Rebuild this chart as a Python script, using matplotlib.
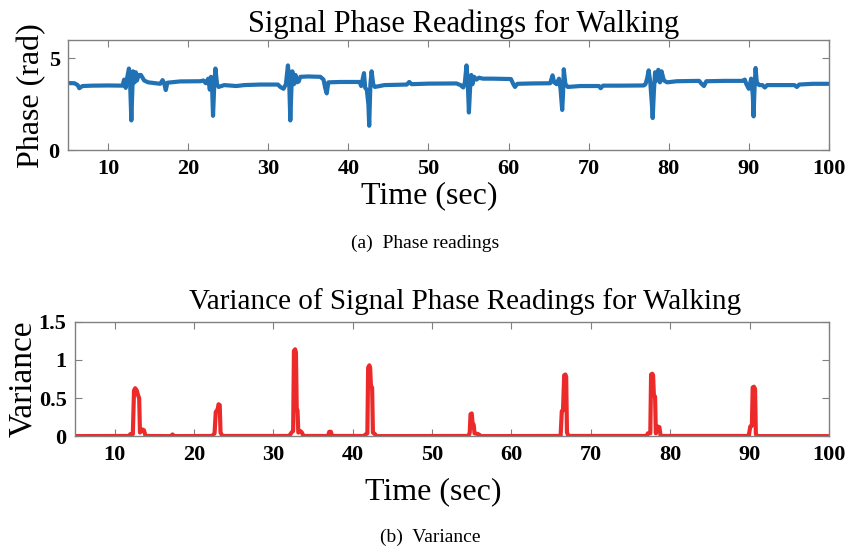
import matplotlib
matplotlib.use("Agg")
import matplotlib.pyplot as plt

plt.rcParams['font.family'] = ['Liberation Serif', 'DejaVu Serif']

# phase readings (time in sec, phase in rad)
phase_t = [5.0, 5.8, 6.2, 6.4, 6.8, 8, 10, 11.8,
           12.0, 12.2, 12.4, 12.6, 12.75, 12.9, 13.0, 13.1, 13.3, 13.45, 13.6, 13.8, 14.1, 14.5, 15.0,
           16.5, 16.8, 17.0, 17.2, 17.4, 19, 21.5,
           21.9, 22.2, 22.5, 22.7, 22.85, 23.0, 23.1, 23.25, 23.4, 23.6, 23.8, 24.5, 26, 27, 29, 31.2,
           31.5, 31.9, 32.2, 32.45, 32.6, 32.75, 32.9, 33.0, 33.2, 33.4, 33.6, 33.8, 34.0, 35, 36.5,
           36.9, 37.1, 37.3, 37.5, 39, 41.4,
           41.6, 41.8, 41.95, 42.1, 42.3, 42.5, 42.6, 42.75, 42.9, 43.1, 43.3, 44.5, 47.3, 47.6, 47.9,
           50, 53.5,
           54.0, 54.35, 54.55, 54.75, 54.9, 55.05, 55.2, 55.35, 55.5, 55.7, 56.0, 56.3, 56.8, 58, 60.3,
           60.6, 60.8, 61.1, 63, 65.2,
           65.5, 65.7, 66.0, 66.3, 66.5, 66.7, 66.8, 66.9, 67.1, 67.4, 69, 71.3, 71.5, 71.8, 74, 76.9,
           77.1, 77.3, 77.5, 77.7, 77.9, 78.0, 78.15, 78.3, 78.5, 78.7, 78.9, 79.1, 79.4, 79.8, 80.2,
           81, 83.8, 84.1, 84.4, 84.7, 87, 89.2,
           89.5, 89.7, 90.0, 90.3, 90.5, 90.6, 90.7, 90.85, 91.0, 91.3, 91.7, 92.0, 92.3, 95.7, 96.0,
           96.3, 98, 100]
phase_v = [3.66, 3.65, 3.55, 3.38, 3.50, 3.52, 3.53, 3.52,
           3.85, 3.4, 4.0, 4.45, 3.6, 1.63, 3.0, 4.3, 3.7, 4.25, 3.8, 4.1, 4.1, 3.8, 3.7,
           3.62, 3.82, 3.65, 3.28, 3.68, 3.75, 3.76,
           3.8, 3.65, 3.9, 3.3, 4.0, 3.2, 1.88, 3.5, 4.45, 3.6, 3.45, 3.55, 3.5, 3.55, 3.58, 3.58,
           3.45, 3.35, 3.6, 4.62, 3.9, 1.63, 3.5, 4.3, 3.6, 4.1, 3.7, 3.75, 4.0, 4.02, 4.0,
           3.85, 3.4, 3.1, 3.7, 3.72, 3.72,
           3.5, 3.9, 4.2, 3.4, 3.3, 2.5, 1.34, 3.6, 4.3, 3.6, 3.45, 3.55, 3.58, 3.72, 3.6,
           3.63, 3.64,
           3.55, 3.42, 3.7, 4.62, 3.8, 2.06, 3.4, 4.1, 3.6, 4.0, 3.85, 3.95, 3.9, 3.9, 3.88,
           3.6, 3.45, 3.62, 3.64, 3.65,
           4.08, 3.7, 3.6, 3.9, 3.3, 2.2, 3.0, 4.41, 3.6, 3.45, 3.5, 3.5, 3.38, 3.52, 3.52, 3.53,
           3.6, 3.9, 4.35, 3.7, 2.5, 1.76, 3.2, 4.25, 3.8, 4.38, 3.7, 4.3, 3.8, 3.7, 3.72,
           3.76, 3.78, 3.62, 3.5, 3.76, 3.78, 3.78,
           3.85, 3.6, 3.35, 3.9, 3.0, 1.85, 3.2, 4.48, 3.7, 3.55, 3.55, 3.42, 3.55, 3.55, 3.45,
           3.58, 3.62, 3.62]

# variance of the phase readings
var_t = [5, 11.8, 12.0, 12.3, 12.45, 12.6, 12.8, 12.95, 13.1, 13.2, 13.5, 13.7, 13.9,
         17.1, 17.3, 17.5,
         22.3, 22.6, 22.75, 22.9, 23.0, 23.1, 23.25, 23.35, 23.6,
         32.0, 32.3, 32.5, 32.6, 32.75, 32.85, 32.95, 33.05, 33.15, 33.4, 33.6, 33.8,
         36.9, 37.05, 37.25, 37.4,
         41.4, 41.7, 41.85, 41.95, 42.1, 42.2, 42.3, 42.45, 42.55, 42.8, 43.0,
         54.6, 54.75, 54.85, 55.0, 55.1, 55.25, 55.35, 55.8, 56.2,
         66.2, 66.35, 66.5, 66.65, 66.8, 66.9, 67.0, 67.2,
         77.0, 77.2, 77.5, 77.6, 77.75, 77.85, 77.95, 78.1, 78.2, 78.4, 78.65, 78.8,
         89.9, 90.1, 90.3, 90.4, 90.55, 90.7, 90.8, 91, 100]
var_v = [0.003, 0.005, 0.03, 0.03, 0.6, 0.63, 0.6, 0.54, 0.5, 0.05, 0.09, 0.08, 0.005,
         0.003, 0.025, 0.003,
         0.005, 0.04, 0.32, 0.34, 0.36, 0.42, 0.41, 0.05, 0.005,
         0.005, 0.05, 0.07, 1.12, 1.14, 1.1, 0.36, 0.34, 0.05, 0.07, 0.05, 0.005,
         0.005, 0.06, 0.06, 0.005,
         0.005, 0.03, 0.04, 0.9, 0.93, 0.9, 0.66, 0.64, 0.05, 0.03, 0.003,
         0.005, 0.05, 0.29, 0.30, 0.18, 0.15, 0.04, 0.03, 0.003,
         0.005, 0.33, 0.34, 0.8, 0.81, 0.78, 0.05, 0.005,
         0.005, 0.04, 0.04, 0.81, 0.82, 0.8, 0.54, 0.52, 0.04, 0.13, 0.12, 0.005,
         0.005, 0.13, 0.14, 0.64, 0.65, 0.62, 0.03, 0.003, 0.003]

xticks = [10, 20, 30, 40, 50, 60, 70, 80, 90, 100]

fig = plt.figure(figsize=(8.51, 5.52), dpi=100)
ax1 = fig.add_axes([0.080, 0.7275, 0.894, 0.200])
ax2 = fig.add_axes([0.088, 0.2095, 0.886, 0.2075])

def style(ax, xlabel_y):
    for s in ax.spines.values():
        s.set_color('#808080')
        s.set_linewidth(1.0)
    ax.tick_params(direction='in', top=True, right=True, length=5,
                   color='#808080', labelsize=16, pad=6)
    for lab in ax.get_xticklabels() + ax.get_yticklabels():
        lab.set_fontweight('bold')
    # the x label sits a little left of the axes centre in the original
    ax.set_xlabel('Time (sec)', fontsize=23)
    ax.xaxis.set_label_coords(0.475, xlabel_y)

ax1.plot(phase_t, phase_v, color='#2171b5', lw=3)
ax1.set_xlim(5, 100)
ax1.set_ylim(0, 6)
ax1.set_xticks(xticks)
ax1.set_yticks([0, 5])
ax1.set_title('Signal Phase Readings for Walking', fontsize=22, pad=6, x=0.52)
ax1.set_ylabel('Phase (rad)', fontsize=23, labelpad=2)
style(ax1, -0.28)

ax2.plot(var_t, var_v, color='#ec2a2a', lw=3)
ax2.set_xlim(5, 100)
ax2.set_ylim(0, 1.5)
ax2.set_xticks(xticks)
ax2.set_yticks([0, 0.5, 1, 1.5])
ax2.set_yticklabels(['0', '0.5', '1', '1.5'])
ax2.set_title('Variance of Signal Phase Readings for Walking', fontsize=21, pad=9, x=0.518)
ax2.set_ylabel('Variance', fontsize=24)
ax2.yaxis.set_label_coords(-0.049, 0.5)
style(ax2, -0.355)

fig.text(0.500, 0.560, '(a)  Phase readings', ha='center', va='center', fontsize=14)
fig.text(0.505, 0.027, '(b)  Variance', ha='center', va='center', fontsize=14)

fig.savefig('out.png', dpi=100)
